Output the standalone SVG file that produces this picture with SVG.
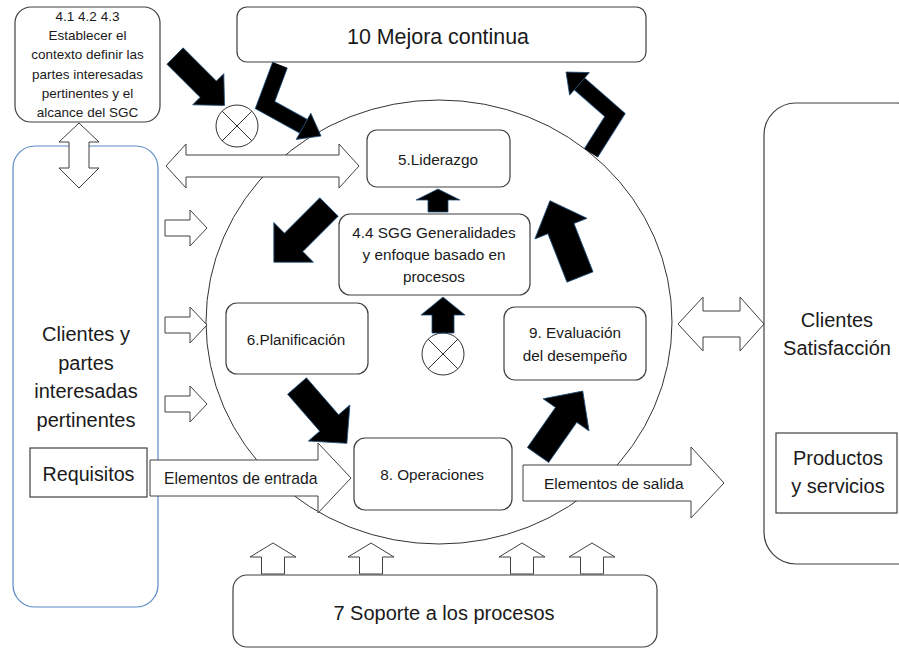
<svg xmlns="http://www.w3.org/2000/svg" width="899" height="649" viewBox="0 0 899 649">
<defs>
<style>
text{font-family:"Liberation Sans",Arial,sans-serif;fill:#1a1a1a;text-anchor:middle}
.box{fill:#fff;stroke:#404040;stroke-width:1.2}
.wa{fill:#fff;stroke:#404040;stroke-width:1}
.ba{fill:#000;stroke:#1f4e79;stroke-width:0.8}
.bl{fill:none;stroke:#000;stroke-width:15;stroke-linejoin:miter}
.blo{fill:none;stroke:#2a5a88;stroke-width:16.6;stroke-linejoin:miter}
.xc{fill:#fff;stroke:#333;stroke-width:1}
.t15{font-size:15.3px}
.t20{font-size:20px}
</style>
</defs>
<rect width="899" height="649" fill="#fff"/>

<g id="clientes-partes">
<rect x="13" y="146" width="145" height="461" rx="22" fill="#fff" stroke="#5a8ac6" stroke-width="1.2"/>
<text class="t20" x="86" y="341">Clientes y</text>
<text class="t20" x="86" y="370">partes</text>
<text class="t20" x="86" y="398">interesadas</text>
<text class="t20" x="86" y="427">pertinentes</text>
</g>
<g id="requisitos">
<rect x="30" y="448" width="117" height="49" fill="#fff" stroke="#404040" stroke-width="1.2"/>
<text x="88.5" y="481" style="font-size:19.7px">Requisitos</text>
</g>
<g id="clientes-satisfaccion">
<rect class="box" x="764" y="103" width="165" height="461" rx="32"/>
<text class="t20" x="837" y="327">Clientes</text>
<text class="t20" x="837" y="355">Satisfacción</text>
</g>
<g id="productos">
<rect x="776" y="433" width="121" height="80" fill="#fff" stroke="#404040" stroke-width="1.2"/>
<text class="t20" x="838" y="465">Productos</text>
<text class="t20" x="838" y="493">y servicios</text>
</g>

<g id="ciclo">
<ellipse cx="439" cy="322" rx="233" ry="222" fill="none" stroke="#333" stroke-width="1"/>
</g>

<g id="contexto">
<rect class="box" x="15" y="7" width="145" height="115" rx="16"/>
<text x="87.5" y="21" style="font-size:13.5px">4.1 4.2 4.3</text>
<text x="87.5" y="40.2" style="font-size:13.5px">Establecer el</text>
<text x="87.5" y="59.4" style="font-size:13.5px">contexto definir las</text>
<text x="87.5" y="78.6" style="font-size:13.5px">partes interesadas</text>
<text x="87.5" y="97.8" style="font-size:13.5px">pertinentes y el</text>
<text x="87.5" y="117" style="font-size:13.5px">alcance del SGC</text>
</g>
<g id="mejora">
<rect class="box" x="237" y="7" width="409" height="55" rx="10"/>
<text x="438" y="44" style="font-size:21.4px">10 Mejora continua</text>
</g>
<g id="soporte">
<rect class="box" x="233" y="575" width="424" height="72" rx="14"/>
<text class="t20" x="444" y="620">7 Soporte a los procesos</text>
</g>

<g id="connectors">
<polygon class="wa" points="79,123 99,142 89,142 89,168 99,168 79,188 59,168 69,168 69,142 59,142"/>
<polygon class="wa" points="166,166 186,144 186,155 339,155 339,144 359,166 339,188 339,177 186,177 186,188"/>
<polygon class="wa" points="678,324 703,297 703,311 740,311 740,297 764,324 740,351 740,337 703,337 703,351"/>
<polygon class="wa" points="165,220 190,220 190,210 207,228 190,246 190,236 165,236"/>
<polygon class="wa" points="165,317 190,317 190,307 207,325 190,343 190,333 165,333"/>
<polygon class="wa" points="165,396 190,396 190,386 207,404 190,422 190,412 165,412"/>
<polygon class="wa" points="261.5,574 261.5,557 250,557 273,543 296,557 284.5,557 284.5,574"/>
<polygon class="wa" points="359.5,574 359.5,557 348,557 371,543 394,557 382.5,557 382.5,574"/>
<polygon class="wa" points="510.5,574 510.5,557 499,557 522,543 545,557 533.5,557 533.5,574"/>
<polygon class="wa" points="580.5,574 580.5,557 569,557 592,543 615,557 603.5,557 603.5,574"/>
<g id="entrada">
<polygon class="wa" points="150,460 318,460 318,443 351,478 318,513 318,496 150,496"/>
<text x="164" y="484" style="font-size:15.7px;text-anchor:start">Elementos de entrada</text>
</g>
<g id="salida">
<polygon class="wa" points="523,465 691,465 691,447 724,483 691,518 691,501 523,501"/>
<text x="544" y="489" style="font-size:15.5px;text-anchor:start">Elementos de salida</text>
</g>
</g>

<g id="junction-1">
<circle class="xc" cx="237" cy="126" r="21"/>
<path d="M222.2,111.2 L251.8,140.8 M251.8,111.2 L222.2,140.8" stroke="#333" stroke-width="1"/>
</g>
<g id="junction-2">
<circle class="xc" cx="443" cy="354" r="21"/>
<path d="M428.2,339.2 L457.8,368.8 M457.8,339.2 L428.2,368.8" stroke="#333" stroke-width="1"/>
</g>

<g id="liderazgo">
<rect class="box" x="367" y="130" width="143" height="57" rx="10"/>
<text class="t15" x="438" y="165">5.Liderazgo</text>
</g>
<g id="generalidades">
<rect class="box" x="339" y="214" width="191" height="81" rx="11"/>
<text class="t15" x="434" y="238">4.4 SGG Generalidades</text>
<text class="t15" x="434" y="260">y enfoque basado en</text>
<text class="t15" x="434" y="282">procesos</text>
</g>
<g id="planificacion">
<rect class="box" x="226" y="303" width="142" height="71" rx="11"/>
<text class="t15" x="296" y="345">6.Planificación</text>
</g>
<g id="evaluacion">
<rect class="box" x="504" y="307" width="142" height="73" rx="11"/>
<text class="t15" x="575" y="338">9. Evaluación</text>
<text class="t15" x="575" y="361">del desempeño</text>
</g>
<g id="operaciones">
<rect class="box" x="354" y="438" width="158" height="72" rx="11"/>
<text class="t15" x="432" y="480">8. Operaciones</text>
</g>

<g id="black-arrows">
<polygon class="ba" transform="translate(175,56) rotate(45)" points="0,-11.5 47,-11.5 47,-22 70,0 47,22 47,11.5 0,11.5"/>
<polyline class="blo" points="280,65 265,105 303.5,126.3"/>
<polyline class="bl" points="280,65 265,105 303.5,126.3"/>
<polygon class="ba" points="296.2,139.4 310.8,113.2 321,136"/>
<polygon class="ba" transform="translate(329,207) rotate(135)" points="0,-13 50,-13 50,-28 78,0 50,28 50,13 0,13"/>
<polygon class="ba" points="428,212 428,200 416,200 438,189 460,200 448,200 448,212"/>
<polygon class="ba" points="432,333 432,315 421,315 443,297 465,315 454,315 454,333"/>
<polygon class="ba" transform="translate(580,277) rotate(-111.5)" points="0,-14 52,-14 52,-28 82,0 52,28 52,14 0,14"/>
<polyline class="blo" points="591,153 615,115 579.5,83.9"/>
<polyline class="bl" points="591,153 615,115 579.5,83.9"/>
<polygon class="ba" points="589.4,72.6 569.6,95.2 566,72"/>
<polygon class="ba" transform="translate(297,386) rotate(49)" points="0,-12.5 49,-12.5 49,-27.5 76,0 49,27.5 49,12.5 0,12.5"/>
<polygon class="ba" transform="translate(538,455) rotate(-55)" points="0,-13 49,-13 49,-28 78,0 49,28 49,13 0,13"/>
</g>
</svg>
